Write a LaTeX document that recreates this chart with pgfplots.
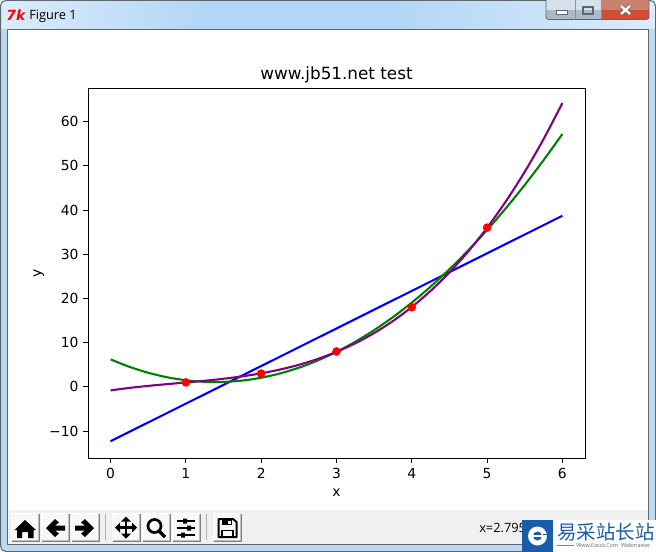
\documentclass[border=0pt]{standalone}
\usepackage{pgfplots}
\pgfplotsset{compat=1.18}
\usepackage{fontspec}
\setmainfont{DejaVu Sans}
\newfontfamily\winfont{Open Sans}
\newfontfamily\cjk{Noto Sans CJK SC}
\definecolor{tbA}{HTML}{DCECFA}
\definecolor{tbB}{HTML}{B4D6F6}
\definecolor{edge}{HTML}{5C6770}
\definecolor{frameblue}{HTML}{BCD8F2}
\definecolor{toolbg}{HTML}{F0F0F0}
\definecolor{wmblue}{HTML}{1A5CA8}
\definecolor{closeA}{HTML}{C9826F}
\definecolor{closeB}{HTML}{CF4F36}
\definecolor{btnA}{HTML}{D5E0EA}
\definecolor{btnB}{HTML}{A9B9C8}
\newcommand{\tbtn}[2]{%
  \fill[white] (#1,#2) rectangle ++(28,28);
  \fill[black!50] (#1+1,#2+1) rectangle ++(27.5,27.5);
  \fill[black!25] (#1+1,#2+1) rectangle ++(26.5,26.5);
  \fill[toolbg!50!white] (#1+1,#2+1) rectangle ++(25.5,25.5);
}
\begin{document}
\begin{tikzpicture}
\useasboundingbox (0pt,0pt) rectangle (492pt,-414pt);
\begin{scope}[x=0.75pt,y=-0.75pt]
  % window frame
  \fill[white] (0,0) rectangle (656,552);
  \fill[frameblue,rounded corners=4pt] (0,0) rectangle (656,552);
  \shade[left color=tbA,right color=tbB] (1,1) rectangle (200,29);
  \fill[tbB] (200,1) rectangle (400,29);
  \shade[left color=tbB,right color=tbA] (400,1) rectangle (655,29);
  \draw[edge,line width=0.75pt,rounded corners=4pt] (0.5,0.5) rectangle (655.5,551.5);
  % client area
  \fill[white] (8,29) rectangle (648,544);
  \draw[edge,line width=0.75pt] (7.5,29.5) rectangle (648.5,544.5);
  % caption
  \node[text=red,font=\bfseries\itshape\fontsize{10.5}{10.5}\selectfont,inner sep=0] at (16,15) {7k};
  \node[anchor=base west,inner sep=0,font=\winfont\fontsize{9.6}{11}\selectfont] at (29,20) {Figure 1};
  % caption buttons
  \fill[btnA] (546,0) rectangle (601,10);
  \fill[btnB] (546,10) rectangle (601,19.5);
  \fill[closeA] (602,0) rectangle (649,10);
  \fill[closeB] (602,10) rectangle (649,19.5);
  \draw[edge,line width=0.6pt,rounded corners=2pt] (546,-2) rectangle (649,19.5);
  \draw[edge!70!white,line width=0.5pt] (575,0)--(575,19) (601.5,0)--(601.5,19);
  \filldraw[fill=white,draw=edge,line width=0.5pt] (556,10.5) rectangle (567,14.5);
  \draw[edge,line width=1pt] (583,7) rectangle (593,14);
  \draw[edge,line width=3pt] (621,6)--(630,14) (630,6)--(621,14);
  \draw[white,line width=1.8pt] (621,6)--(630,14) (630,6)--(621,14);
  % toolbar
  \fill[toolbg] (8.5,510) rectangle (648,544);
  \tbtn{11}{513}\tbtn{41}{513}\tbtn{71}{513}\tbtn{112}{513}\tbtn{142}{513}\tbtn{172}{513}\tbtn{213}{513}
  \draw[gray!60,line width=0.75pt] (105,514)--(105,540) (206,514)--(206,540);
  % home
  \fill[black] (25,520)--(36,530)--(33.5,530)--(33.5,538)--(28,538)--(28,532)--(22,532)--(22,538)--(17,538)--(17,530)--(14.5,530)--cycle;
  % back, forward
  \fill[black] (46,528)--(55,519)--(59,522.5)--(55,525.5)--(65,525.5)--(65,530.5)--(55,530.5)--(59,533.5)--(55,537)--cycle;
  \fill[black] (94,528)--(85,519)--(81,522.5)--(85,525.5)--(75,525.5)--(75,530.5)--(85,530.5)--(81,533.5)--(85,537)--cycle;
  % move
  \draw[black,line width=1.8pt] (116,527.5)--(136,527.5) (126,517.5)--(126,537.5);
  \fill[black] (115,527.5)--(120,522.5)--(120,532.5)--cycle (137,527.5)--(132,522.5)--(132,532.5)--cycle
     (126,516.5)--(121,521.5)--(131,521.5)--cycle (126,538.5)--(121,533.5)--(131,533.5)--cycle;
  % zoom
  \draw[black,line width=2pt] (154.5,526) circle[radius=6.5];
  \draw[black,line width=2.4pt] (159,531)--(165,537);
  % configure
  \draw[black,line width=1.1pt] (177,521)--(195,521) (177,528)--(195,528) (177,535)--(195,535);
  \fill[black] (183,518.5) rectangle (187,523.5) (187,525.5) rectangle (191,530.5) (181,532.5) rectangle (185,537.5);
  % save
  \draw[black,line width=1.5pt,line join=round] (218.5,519)--(233,519)--(236.5,522)--(236.5,537)--(218.5,537)--cycle;
  \fill[black] (222,519) rectangle (232,525);
  \fill[toolbg] (228,520.5) rectangle (230.5,524);
  \draw[black,line width=1.2pt] (222,537)--(222,530.5)--(233,530.5)--(233,537);
  % status text
  \node[anchor=base west,inner sep=0,font=\winfont\fontsize{9.6}{11}\selectfont] at (479,532) {x=2.795};
  % watermark
  \fill[white] (522,520) rectangle (656,552);
  \fill[wmblue] (522,520) rectangle (553,552);
  \fill[white] (537.5,536) circle[radius=9.5];
  \fill[wmblue] (537.5,536) circle[radius=4.5];
  \fill[white] (532,534.8) rectangle (547,537.2);
  \fill[wmblue] (543,533.5) rectangle (548,534.7);
  \node[anchor=west,inner sep=0,text=wmblue,font=\cjk\fontsize{14.6}{16}\selectfont] at (557,532) {易采站长站};
  \draw[gray,line width=0.4pt] (557,545)--(574,545);
  \node[anchor=west,inner sep=0,text=gray!80!black,font=\winfont\fontsize{4.1}{5}\selectfont] at (576,545) {Www.Easck.Com\ \ Webmaster};
\end{scope}
\begin{axis}[
  at={(66pt,-343.5pt)}, anchor=south west,
  width=372.75pt, height=277.5pt, scale only axis,
  xmin=-0.3, xmax=6.3, ymin=-16.1, ymax=67.6,
  xtick={0,1,2,3,4,5,6}, xticklabels={0,1,2,3,4,5,6},
  ytick={-10,0,10,20,30,40,50,60}, yticklabels={−10,0,10,20,30,40,50,60},
  axis line style={line width=0.6pt},
  every tick/.style={black,line width=0.6pt},
  tick align=outside, major tick length=3.65pt,
  xtick pos=bottom, ytick pos=left,
  tick label style={font=\fontsize{10.4}{12}\selectfont},
  xticklabel style={yshift=-0.6pt},
  title={www.jb51.net test},
  title style={font=\fontsize{12.6}{14}\selectfont,yshift=-5.5pt},
  xlabel={x}, ylabel={y},
  label style={font=\fontsize{10.4}{12}\selectfont},
  xlabel style={yshift=-1pt},
  ylabel style={yshift=-3pt},
  clip=true,
]
\addplot[only marks,mark=*,mark size=3pt,color=red,mark options={draw=red,fill=red}] coordinates {(1,1)(2,3)(3,8)(4,18)(5,36)};
\addplot[blue,line width=1.56pt] coordinates {(0,-12.3)(6,38.7)};
\addplot[color={rgb,255:red,0;green,128;blue,0},line width=1.56pt,smooth,tension=0.5] coordinates {
(0,6.200)(0.25,4.526)(0.5,3.182)(0.75,2.169)(1,1.486)(1.25,1.133)(1.5,1.111)(1.75,1.419)(2,2.057)(2.25,3.026)(2.5,4.325)(2.75,5.955)(3,7.914)(3.25,10.205)(3.5,12.825)(3.75,15.776)(4,19.057)(4.25,22.669)(4.5,26.611)(4.75,30.883)(5,35.486)(5.25,40.419)(5.5,45.682)(5.75,51.276)(6,57.200)};
\addplot[color={rgb,255:red,128;green,0;blue,128},line width=1.56pt,smooth,tension=0.5] coordinates {
(0,-0.800)(0.25,-0.243)(0.5,0.214)(0.75,0.610)(1,0.986)(1.25,1.379)(1.5,1.829)(1.75,2.375)(2,3.057)(2.25,3.913)(2.5,4.981)(2.75,6.302)(3,7.914)(3.25,9.857)(3.5,12.169)(3.75,14.890)(4,18.057)(4.25,21.711)(4.5,25.892)(4.75,30.637)(5,35.986)(5.25,41.978)(5.5,48.651)(5.75,56.045)(6,64.200)};
\end{axis}
\end{tikzpicture}
\end{document}
